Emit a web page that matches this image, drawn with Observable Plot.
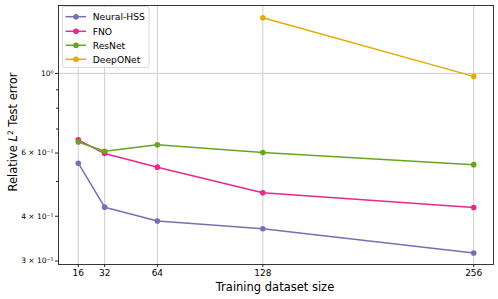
<!DOCTYPE html>
<html>
<head>
<meta charset="utf-8">
<script src="https://cdn.jsdelivr.net/npm/d3@7"></script>
<script src="https://cdn.jsdelivr.net/npm/@observablehq/plot@0.6"></script>
<style>
  html, body { margin: 0; padding: 0; background: #fff; }
  svg { font-family: "DejaVu Sans", sans-serif; }
</style>
</head>
<body>
<div id="chart"></div>
<script>
const sizes = [16, 32, 64, 128, 256];
const seriesNames = ["Neural-HSS", "FNO", "ResNet", "DeepONet"];
const seriesColors = ["#7570b3", "#e7298a", "#66a61e", "#e6ab02"];
const neuralHSS = [0.562, 0.424, 0.388, 0.369, 0.316];
const fno = [0.653, 0.598, 0.548, 0.465, 0.423];
const resnet = [0.644, 0.607, 0.633, 0.602, 0.557];
const deeponetSizes = [128, 256];
const deeponet = [1.429, 0.981];
const yMajorTicks = [0.3, 0.4, 0.6, 1];
const yMinorTicks = [0.5, 0.7, 0.8, 0.9];
const yTickLabels = ["3 × 10⁻¹", "4 × 10⁻¹", "6 × 10⁻¹", "10⁰"];

const data = [];
sizes.forEach((s, i) => data.push({series: "Neural-HSS", n: s, err: neuralHSS[i]}));
sizes.forEach((s, i) => data.push({series: "FNO", n: s, err: fno[i]}));
sizes.forEach((s, i) => data.push({series: "ResNet", n: s, err: resnet[i]}));
deeponetSizes.forEach((s, i) => data.push({series: "DeepONet", n: s, err: deeponet[i]}));

const chart = Plot.plot({
  width: 498,
  height: 299,
  marginLeft: 58,
  marginRight: 5,
  marginTop: 5,
  marginBottom: 35,
  style: {fontFamily: "DejaVu Sans, sans-serif", background: "#fff"},
  x: {domain: [4, 268], label: null},
  y: {type: "log", domain: [0.2935, 1.546], label: null},
  color: {domain: seriesNames, range: seriesColors},
  marks: [
    Plot.ruleX(sizes, {stroke: "#c8c8c8", strokeWidth: 0.9}),
    Plot.ruleY([1], {stroke: "#c8c8c8", strokeWidth: 0.9}),
    Plot.line(data, {x: "n", y: "err", z: "series", stroke: "series", strokeWidth: 1.5}),
    Plot.dot(data, {x: "n", y: "err", fill: "series", r: 2.8}),
    Plot.frame({stroke: "#222", strokeWidth: 0.9}),
    Plot.axisX({ticks: sizes, tickSize: 3, tickPadding: 2, tickFormat: d => String(d), fontSize: 9, label: null, stroke: "#222", fill: "#000"}),
    Plot.axisY({ticks: yMajorTicks, tickSize: 3, tickPadding: 2, tickFormat: d => yTickLabels[yMajorTicks.indexOf(d)], fontSize: 7.5, label: null, stroke: "#222", fill: "#000"}),
    Plot.axisY({ticks: yMinorTicks, tickSize: 2, tickFormat: () => "", label: null, stroke: "#222"})
  ]
});

document.getElementById("chart").appendChild(chart);

const svg = d3.select(chart);

// Axis labels
svg.append("text")
  .attr("x", 275).attr("y", 291)
  .attr("text-anchor", "middle")
  .attr("font-size", 11.5)
  .attr("fill", "#000")
  .text("Training dataset size");

const yl = svg.append("text")
  .attr("transform", "translate(17,132) rotate(-90)")
  .attr("text-anchor", "middle")
  .attr("font-size", 11.5)
  .attr("fill", "#000");
yl.append("tspan").text("Relative ");
yl.append("tspan").attr("font-style", "italic").text("L");
yl.append("tspan").attr("font-size", 7.5).attr("dy", -4.5).text("2");
yl.append("tspan").attr("dy", 4.5).text(" Test error");

// Legend
const lg = svg.append("g").attr("text-anchor", "start");
lg.append("rect")
  .attr("x", 62.5).attr("y", 6.5).attr("width", 86.5).attr("height", 61)
  .attr("rx", 2.5)
  .attr("fill", "#fff").attr("fill-opacity", 0.8)
  .attr("stroke", "#d0d0d0").attr("stroke-width", 0.8);
const rowY = [16.7, 31.3, 45.3, 59.3];
seriesNames.forEach((name, i) => {
  const y = rowY[i];
  lg.append("line").attr("x1", 65.5).attr("x2", 86).attr("y1", y).attr("y2", y)
    .attr("stroke", seriesColors[i]).attr("stroke-width", 1.5);
  lg.append("circle").attr("cx", 76).attr("cy", y).attr("r", 2.8).attr("fill", seriesColors[i]);
  lg.append("text").attr("x", 92.7).attr("y", y).attr("dy", "0.35em")
    .attr("text-anchor", "start")
    .attr("font-size", 9.2).attr("fill", "#000").text(name);
});
</script>
</body>
</html>
